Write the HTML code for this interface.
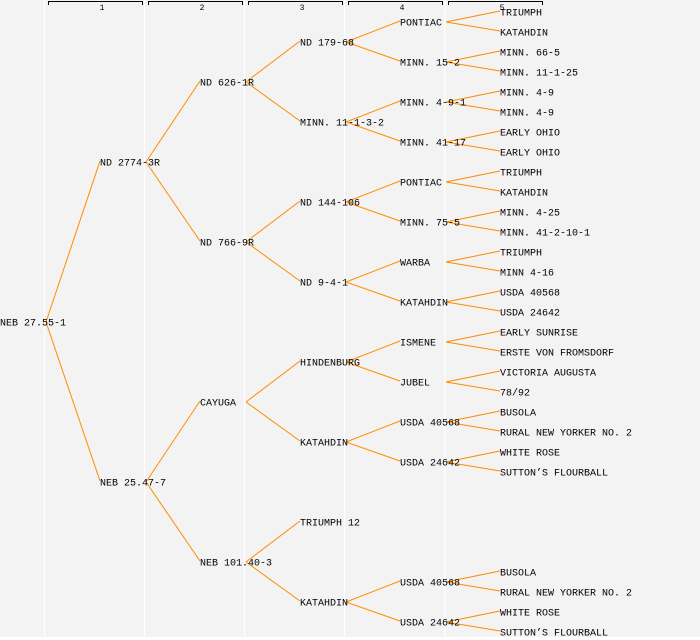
<!DOCTYPE html>
<html><head><meta charset="utf-8"><style>
html,body{margin:0;padding:0;background:#fff}
svg{display:block}
text{font-family:"Liberation Mono","DejaVu Sans Mono",monospace;font-size:10px;fill:#000}
.h{font-size:8px}
</style></head><body>
<svg width="700" height="640" viewBox="0 0 700 640" xmlns="http://www.w3.org/2000/svg">
<rect x="0" y="0" width="700" height="637" fill="#f3f3f3"/>
<g stroke="#fff" stroke-width="1.2">
<line x1="44.5" y1="0" x2="44.5" y2="637"/><line x1="144.5" y1="0" x2="144.5" y2="637"/><line x1="244.5" y1="0" x2="244.5" y2="637"/><line x1="344.5" y1="0" x2="344.5" y2="637"/><line x1="445" y1="0" x2="445" y2="637"/>
</g>
<g stroke="#000" fill="none" stroke-width="1">
<path d="M48.5,5V1.5H142.5V5"/><path d="M148.5,5V1.5H242.5V5"/><path d="M248.5,5V1.5H342.5V5"/><path d="M348.5,5V1.5H442.5V5"/><path d="M448.5,5V1.5H542.5V5"/>
</g>
<g class="h" text-anchor="middle">
<text class="h" x="102" y="10">1</text><text class="h" x="202" y="10">2</text><text class="h" x="302" y="10">3</text><text class="h" x="402" y="10">4</text><text class="h" x="502" y="10">5</text>
</g>
<g stroke="#ff8c00" stroke-width="1" fill="none">
<path d="M46,322L100,161M46,322L100,481"/>
<path d="M146,162L200,81M146,162L200,241M146,482L200,401M146,482L200,561"/>
<path d="M246,82L300,41M246,82L300,121M246,242L300,201M246,242L300,281M246,402L300,361M246,402L300,441M246,562L300,521M246,562L300,601"/>
<path d="M346,42L400,21M346,42L400,61M346,122L400,101M346,122L400,141M346,202L400,181M346,202L400,221M346,282L400,261M346,282L400,301M346,362L400,341M346,362L400,381M346,442L400,421M346,442L400,461M346,602L400,581M346,602L400,621"/>
<path d="M446,22L500,11M446,22L500,31M446,62L500,51M446,62L500,71M446,102L500,91M446,102L500,111M446,142L500,131M446,142L500,151M446,182L500,171M446,182L500,191M446,222L500,211M446,222L500,231M446,262L500,251M446,262L500,271M446,302L500,291M446,302L500,311M446,342L500,331M446,342L500,351M446,382L500,371M446,382L500,391M446,422L500,411M446,422L500,431M446,462L500,451M446,462L500,471M446,582L500,571M446,582L500,591M446,622L500,611M446,622L500,631"/>
</g>
<g dominant-baseline="central" transform="translate(0,2)">
<text x="0" y="322">NEB 27.55-1</text>
<text x="100" y="162">ND 2774-3R</text>
<text x="100" y="482">NEB 25.47-7</text>
<text x="200" y="82">ND 626-1R</text>
<text x="200" y="242">ND 766-9R</text>
<text x="200" y="402">CAYUGA</text>
<text x="200" y="562">NEB 101.40-3</text>
<text x="300" y="42">ND 179-68</text>
<text x="300" y="122">MINN. 11-1-3-2</text>
<text x="300" y="202">ND 144-106</text>
<text x="300" y="282">ND 9-4-1</text>
<text x="300" y="362">HINDENBURG</text>
<text x="300" y="442">KATAHDIN</text>
<text x="300" y="522">TRIUMPH 12</text>
<text x="300" y="602">KATAHDIN</text>
<text x="400" y="22">PONTIAC</text>
<text x="400" y="62">MINN. 15-2</text>
<text x="400" y="102">MINN. 4-9-1</text>
<text x="400" y="142">MINN. 41-17</text>
<text x="400" y="182">PONTIAC</text>
<text x="400" y="222">MINN. 75-5</text>
<text x="400" y="262">WARBA</text>
<text x="400" y="302">KATAHDIN</text>
<text x="400" y="342">ISMENE</text>
<text x="400" y="382">JUBEL</text>
<text x="400" y="422">USDA 40568</text>
<text x="400" y="462">USDA 24642</text>
<text x="400" y="582">USDA 40568</text>
<text x="400" y="622">USDA 24642</text>
<text x="500" y="12">TRIUMPH</text>
<text x="500" y="32">KATAHDIN</text>
<text x="500" y="52">MINN. 66-5</text>
<text x="500" y="72">MINN. 11-1-25</text>
<text x="500" y="92">MINN. 4-9</text>
<text x="500" y="112">MINN. 4-9</text>
<text x="500" y="132">EARLY OHIO</text>
<text x="500" y="152">EARLY OHIO</text>
<text x="500" y="172">TRIUMPH</text>
<text x="500" y="192">KATAHDIN</text>
<text x="500" y="212">MINN. 4-25</text>
<text x="500" y="232">MINN. 41-2-10-1</text>
<text x="500" y="252">TRIUMPH</text>
<text x="500" y="272">MINN 4-16</text>
<text x="500" y="292">USDA 40568</text>
<text x="500" y="312">USDA 24642</text>
<text x="500" y="332">EARLY SUNRISE</text>
<text x="500" y="352">ERSTE VON FROMSDORF</text>
<text x="500" y="372">VICTORIA AUGUSTA</text>
<text x="500" y="392">78/92</text>
<text x="500" y="412">BUSOLA</text>
<text x="500" y="432">RURAL NEW YORKER NO. 2</text>
<text x="500" y="452">WHITE ROSE</text>
<text x="500" y="472">SUTTON’S FLOURBALL</text>
<text x="500" y="572">BUSOLA</text>
<text x="500" y="592">RURAL NEW YORKER NO. 2</text>
<text x="500" y="612">WHITE ROSE</text>
<text x="500" y="632">SUTTON’S FLOURBALL</text>
</g>
</svg>
</body></html>
